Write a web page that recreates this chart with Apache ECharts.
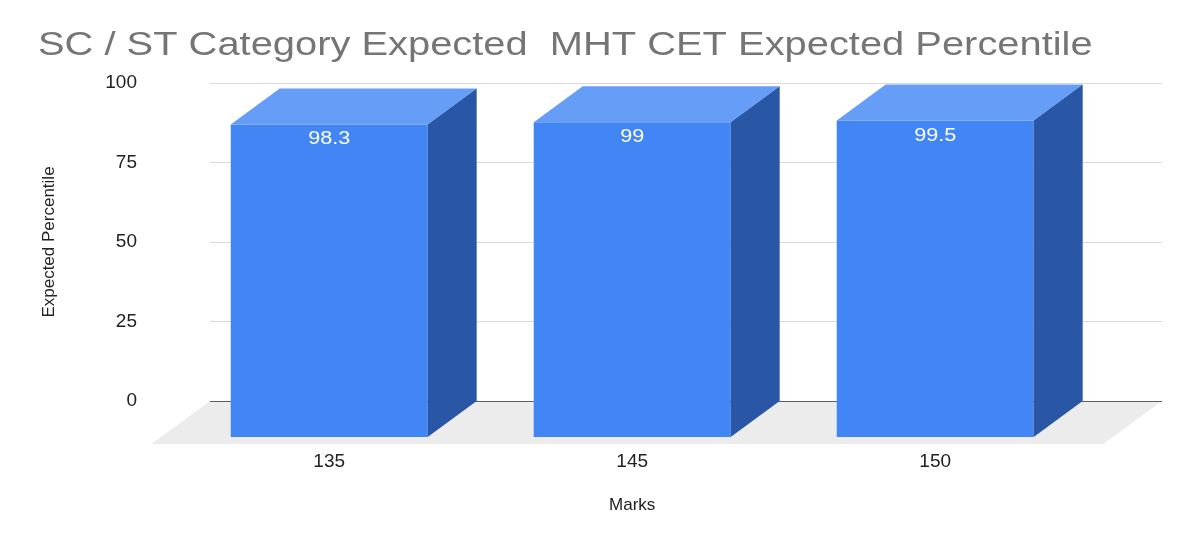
<!DOCTYPE html>
<html lang="en">
<head>
<meta charset="UTF-8">
<title>SC / ST Category Expected MHT CET Expected Percentile</title>
<script src="https://cdn.jsdelivr.net/npm/echarts@6/dist/echarts.min.js"></script>
<style>
  html, body { margin: 0; padding: 0; background: #fff; }
  #container { width: 1200px; height: 542px; }
</style>
</head>
<body>
<div id="container"></div>
<script type="text/javascript">
// data
var marks = ['135', '145', '150'];
var percentile = [98.3, 99, 99.5];
var yTicks = [0, 25, 50, 75, 100];

// layout of the fake 3d box
var depthX = 49, depthY = 36;      // back wall offset
var backLeft = 210, backRight = 1162, zeroY = 401, topY = 83;
var floorExtra = 7;                 // floor sticks out a bit in front of the bars
var barRatio = 0.65;
var font = '"Liberation Sans", Arial, sans-serif';

var dom = document.getElementById('container');
var myChart = echarts.init(dom, null, { renderer: 'canvas' });

var seriesData = [];
for (var i = 0; i < marks.length; i++) {
    seriesData.push([i, percentile[i]]);
}

// floor parallelogram under the bars
var fy = zeroY + depthY + floorExtra;
var fdx = depthX * (depthY + floorExtra) / depthY;
var floor = {
    type: 'polygon',
    z: -1,
    shape: { points: [[backLeft, zeroY], [backRight, zeroY], [backRight - fdx, fy], [backLeft - fdx, fy]] },
    style: { fill: '#ececec' }
};

// gridline colours, the zero line is darker
var gridColors = yTicks.map(function (t) { return t === 0 ? '#5f5f5f' : '#dadada'; });

function renderBox(params, api) {
    var top = api.coord([api.value(0), api.value(1)]);
    var base = api.coord([api.value(0), 0]);
    var w = api.size([1, 0])[0] * barRatio;
    var x0 = top[0] - w / 2, x1 = top[0] + w / 2;
    return {
        type: 'group',
        children: [
            {
                type: 'rect',
                shape: { x: x0, y: top[1], width: w, height: base[1] - top[1] },
                style: { fill: '#4285f4' }
            },
            {
                type: 'polygon',
                shape: { points: [[x0, top[1]], [x0 + depthX, top[1] - depthY], [x1 + depthX, top[1] - depthY], [x1, top[1]]] },
                style: { fill: '#669df6' }
            },
            {
                type: 'polygon',
                shape: { points: [[x1, top[1]], [x1 + depthX, top[1] - depthY], [x1 + depthX, base[1] - depthY], [x1, base[1]]] },
                style: { fill: '#2a56a6' }
            },
            {
                type: 'text',
                x: top[0], y: top[1] + 15,
                scaleX: 1.2,
                style: {
                    text: String(api.value(1)),
                    x: 0, y: 0,
                    align: 'center', verticalAlign: 'middle',
                    fill: '#ffffff', font: '18px ' + font
                }
            }
        ]
    };
}

var option = {
    animation: false,
    graphic: [
        floor,
        {
            type: 'text',
            x: 38, y: 46,
            scaleX: 1.19,
            z: 5,
            style: {
                text: 'SC / ST Category Expected  MHT CET Expected Percentile',
                x: 0, y: 0,
                verticalAlign: 'middle',
                fill: '#757575',
                font: '33.5px ' + font
            }
        }
    ],
    grid: [
        // back wall (gridlines)
        { left: backLeft, right: 1200 - backRight, top: topY, bottom: 542 - zeroY },
        // front plane (bars)
        { left: 177.7, width: 909, top: topY + depthY, bottom: 542 - zeroY - depthY }
    ],
    xAxis: [
        {
            gridIndex: 0, type: 'value', min: 0, max: 1, show: false
        },
        {
            gridIndex: 1, type: 'category', data: marks,
            axisLine: { show: false }, axisTick: { show: false },
            axisLabel: { margin: 15, color: '#222', fontSize: 19, fontFamily: font },
            name: 'Marks', nameLocation: 'middle', nameGap: 60,
            nameTextStyle: { color: '#222', fontSize: 17, fontFamily: font }
        }
    ],
    yAxis: [
        {
            gridIndex: 0, type: 'value', min: 0, max: 100, interval: 25,
            axisLine: { show: false }, axisTick: { show: false },
            splitLine: { lineStyle: { color: gridColors, width: 1.2 } },
            axisLabel: { margin: 73, color: '#222', fontSize: 19, fontFamily: font },
            name: 'Expected Percentile', nameLocation: 'middle', nameGap: 152, nameRotate: 90,
            nameTextStyle: { color: '#222', fontSize: 17, fontFamily: font }
        },
        {
            gridIndex: 1, type: 'value', min: 0, max: 100, show: false
        }
    ],
    series: [
        {
            type: 'custom',
            xAxisIndex: 1, yAxisIndex: 1,
            z: 10,
            renderItem: renderBox,
            encode: { x: 0, y: 1 },
            data: seriesData
        }
    ]
};

if (option && typeof option === 'object') {
    myChart.setOption(option, true);
}
</script>
</body>
</html>
